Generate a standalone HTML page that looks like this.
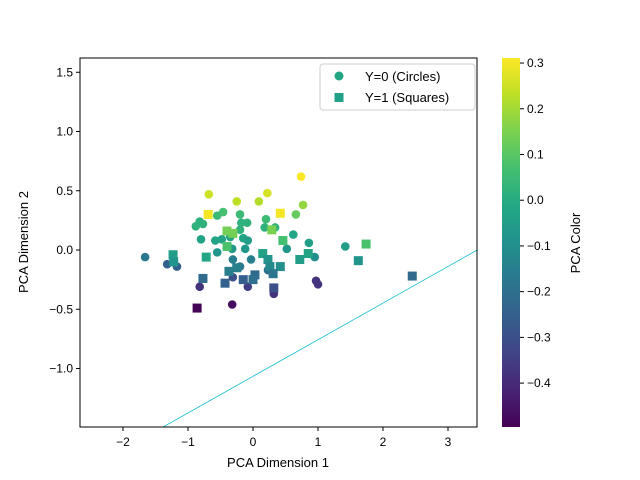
<!DOCTYPE html>
<html><head><meta charset="utf-8"><style>body{margin:0;background:#fff}svg{display:block;font-family:"Liberation Sans",sans-serif}</style></head>
<body>
<svg id="chart" width="640" height="480" xmlns="http://www.w3.org/2000/svg">
<defs><linearGradient id="vir" x1="0" y1="1" x2="0" y2="0">
<stop offset="0" stop-color="#440154"/><stop offset="0.1" stop-color="#482475"/><stop offset="0.2" stop-color="#414487"/><stop offset="0.3" stop-color="#355f8d"/><stop offset="0.4" stop-color="#2a788e"/><stop offset="0.5" stop-color="#21918c"/><stop offset="0.6" stop-color="#22a884"/><stop offset="0.7" stop-color="#44bf70"/><stop offset="0.8" stop-color="#7ad151"/><stop offset="0.9" stop-color="#bddf26"/><stop offset="1" stop-color="#fde725"/></linearGradient>
<clipPath id="clip"><rect x="80" y="58" width="397" height="369"/></clipPath></defs>
<g id="plot" clip-path="url(#clip)"></g>
<rect x="80" y="58" width="397" height="369" fill="none" stroke="#000" stroke-width="1"/>
<g id="axes"></g>
<text x="278" y="467" text-anchor="middle" font-size="13">PCA Dimension 1</text>
<text transform="translate(28,242) rotate(-90)" text-anchor="middle" font-size="13">PCA Dimension 2</text>
<g>
<rect x="320" y="64" width="155" height="46" fill="#fff" fill-opacity="0.8" stroke="#ccc" rx="3"/>
<circle cx="339" cy="76" r="4.5" fill="#21a585"/>
<text x="365" y="81" font-size="13">Y=0 (Circles)</text>
<rect x="334.5" y="93" width="9" height="9" fill="#21a08a"/>
<text x="365" y="102" font-size="13">Y=1 (Squares)</text>
</g>
<rect x="502" y="58" width="18" height="369" fill="url(#vir)"/>
<g id="cbar"></g>
<text transform="translate(580,243) rotate(-90)" text-anchor="middle" font-size="13">PCA Color</text>
</svg>
<script>
const c0x=[-1.66,-1.32,-1.17,-0.82,-0.32,-0.68,-0.25,0.09,0.22,0.74,0.77,0.66,-0.55,-0.46,-0.88,-0.82,-0.77,-0.20,-0.18,-0.09,0.20,0.18,0.34,0.62,-0.20,-0.80,-0.58,-0.48,-0.35,-0.15,-0.08,0.52,0.86,-0.55,-0.32,-0.12,0.95,-0.31,-0.03,-0.20,0.23,-0.31,-0.08,0.97,1.00,0.32,1.42];
const c0y=[-0.06,-0.12,-0.14,-0.31,-0.46,0.47,0.41,0.41,0.48,0.62,0.38,0.30,0.29,0.32,0.20,0.24,0.22,0.30,0.23,0.23,0.26,0.19,0.19,0.13,0.17,0.09,0.08,0.09,0.11,0.10,0.08,0.01,0.06,-0.02,0.01,0.01,-0.06,-0.08,-0.08,-0.14,-0.17,-0.23,-0.31,-0.26,-0.29,-0.37,0.03];
const c0c=[-0.17,-0.25,-0.25,-0.38,-0.47,0.25,0.23,0.22,0.26,0.31,0.18,0.12,0.05,0.07,0.02,0.02,0.02,0.05,0.02,0.02,0.05,0.02,0.02,-0.02,0.02,-0.03,-0.03,-0.03,-0.03,-0.03,-0.05,-0.07,-0.05,-0.08,-0.07,-0.07,-0.10,-0.15,-0.15,-0.18,-0.20,-0.30,-0.35,-0.38,-0.38,-0.38,-0.05];
const c1x=[-1.23,-1.22,-0.77,-0.86,-0.69,0.42,-0.40,-0.31,0.29,-0.40,0.46,-0.72,0.15,0.85,0.72,0.23,0.42,-0.37,-0.25,0.26,0.31,0.03,-0.15,-0.43,0.00,0.32,1.74,1.62,2.45];
const c1y=[-0.04,-0.10,-0.24,-0.49,0.30,0.31,0.16,0.14,0.17,0.03,0.08,-0.06,-0.03,-0.03,-0.08,-0.08,-0.14,-0.18,-0.15,-0.14,-0.20,-0.21,-0.25,-0.28,-0.25,-0.32,0.05,-0.09,-0.22];
const c1c=[-0.05,-0.08,-0.22,-0.49,0.30,0.30,0.14,0.14,0.15,0.08,0.07,-0.02,-0.03,-0.03,-0.05,-0.08,-0.10,-0.15,-0.15,-0.12,-0.18,-0.22,-0.25,-0.25,-0.20,-0.30,0.08,-0.08,-0.22];
const xTicks=[-2,-1,0,1,2,3];
const yTicks=[-1.0,-0.5,0.0,0.5,1.0,1.5];
const cTicks=[-0.4,-0.3,-0.2,-0.1,0.0,0.1,0.2,0.3];
const lineX=[-3,4];
const lineSlope=0.309, lineIntercept=-1.066;
const NS="http://www.w3.org/2000/svg";
const sx=v=>253+v*65, sy=v=>250-v*118.5;
const cmin=-0.496,cmax=0.311;
const cy=v=>427-(v-cmin)/(cmax-cmin)*369;
const stops=["#440154","#482475","#414487","#355f8d","#2a788e","#21918c","#22a884","#44bf70","#7ad151","#bddf26","#fde725"].map(h=>[1,3,5].map(i=>parseInt(h.substr(i,2),16)));
function vir(v){let t=Math.max(0,Math.min(1,(v-cmin)/(cmax-cmin)))*10;let i=Math.min(9,Math.floor(t)),f=t-i;const a=stops[i],b=stops[i+1];return `rgb(${a.map((x,k)=>Math.round(x+(b[k]-x)*f)).join(',')})`;}
function mk(tag,attrs,parent){const e=document.createElementNS(NS,tag);for(const k in attrs)e.setAttribute(k,attrs[k]);parent.appendChild(e);return e;}
const plot=document.getElementById('plot'),axes=document.getElementById('axes'),cbar=document.getElementById('cbar');
c0x.forEach((x,i)=>{const e=mk('circle',{cx:sx(x),cy:sy(c0y[i]),r:4.3,fill:vir(c0c[i])},plot);

});
c1x.forEach((x,i)=>{const e=mk('rect',{x:sx(x)-4.5,y:sy(c1y[i])-4.5,width:9,height:9,fill:vir(c1c[i])},plot);

});
const ln=mk('line',{x1:sx(lineX[0]),y1:sy(lineSlope*lineX[0]+lineIntercept),x2:sx(lineX[1]),y2:sy(lineSlope*lineX[1]+lineIntercept),stroke:'#17becf','stroke-width':0.8},plot);


xTicks.forEach(t=>{const x=sx(t);mk('line',{x1:x,x2:x,y1:427,y2:431,stroke:'#000'},axes);
const tx=mk('text',{x:x,y:446,'text-anchor':'middle','font-size':12},axes);tx.textContent=(t<0?'\u2212':'')+Math.abs(t);

});
yTicks.forEach(t=>{const y=sy(t);mk('line',{x1:76,x2:80,y1:y,y2:y,stroke:'#000'},axes);
const tx=mk('text',{x:73,y:y+4,'text-anchor':'end','font-size':12},axes);tx.textContent=(t<0?'\u2212':'')+Math.abs(t).toFixed(1);

});
cTicks.forEach(t=>{const y=cy(t);mk('line',{x1:520,x2:524,y1:y,y2:y,stroke:'#000'},cbar);
const tx=mk('text',{x:527,y:y+4,'font-size':12},cbar);tx.textContent=(t<0?'\u2212':'')+Math.abs(t).toFixed(1);

});
</script>
</body></html>
